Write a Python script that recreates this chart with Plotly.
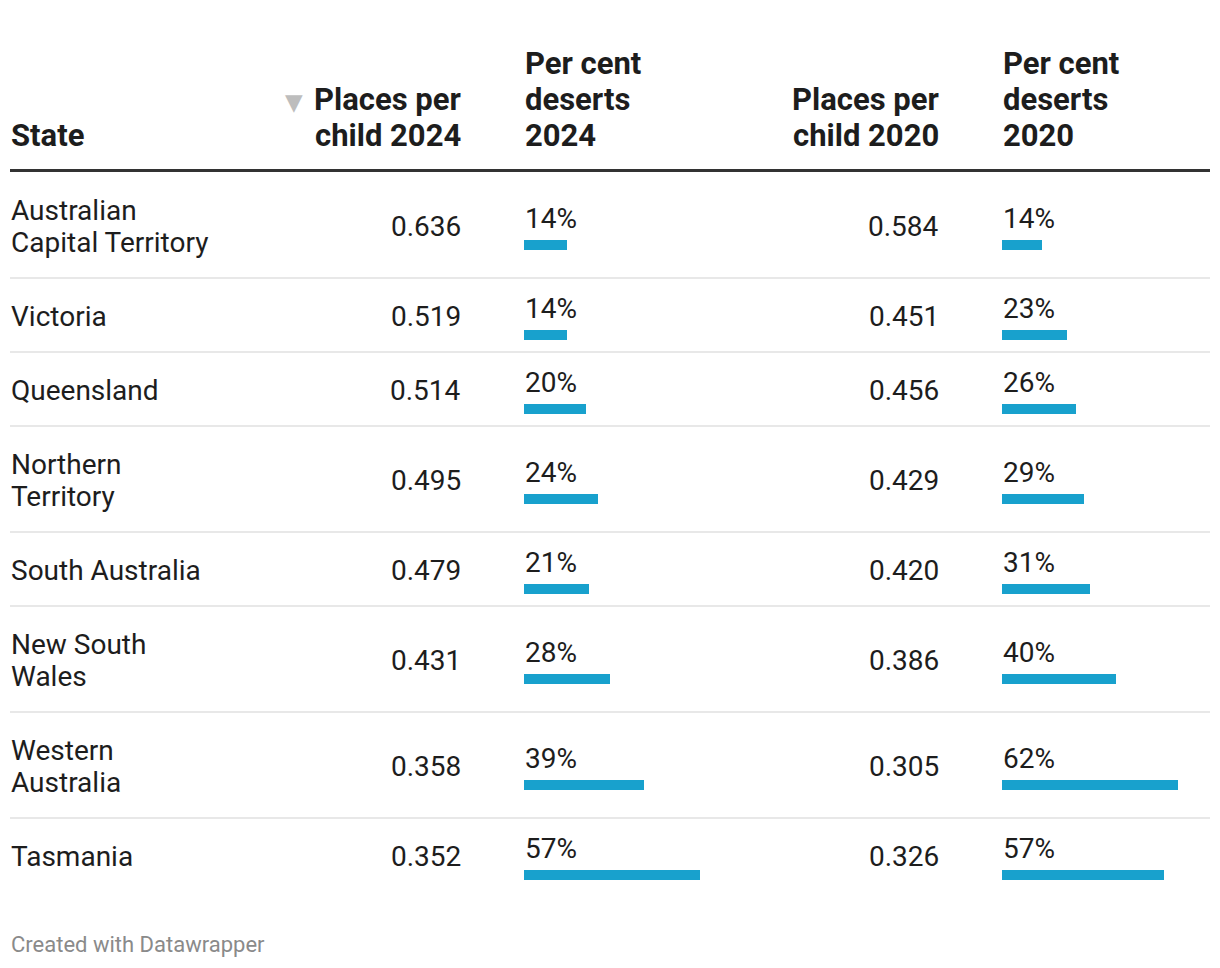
import plotly.graph_objects as go

# ---------------- data ----------------
states = ["Australian<br>Capital Territory", "Victoria", "Queensland", "Northern<br>Territory",
          "South Australia", "New South<br>Wales", "Western<br>Australia", "Tasmania"]
places_2024 = [0.636, 0.519, 0.514, 0.495, 0.479, 0.431, 0.358, 0.352]
pct_2024 = [14, 14, 20, 24, 21, 28, 39, 57]
places_2020 = [0.584, 0.451, 0.456, 0.429, 0.420, 0.386, 0.305, 0.326]
pct_2020 = [14, 23, 26, 29, 31, 40, 62, 57]
headers = ["State", "Places per<br>child 2024", "Per cent<br>deserts<br>2024",
           "Places per<br>child 2020", "Per cent<br>deserts<br>2020"]
footer = "Created with Datawrapper"

# ---------------- layout constants (page pixel coordinates) ----------------
PW, PH = 1220, 968
OFF = 8                       # default page body margin
W, H = PW - OFF, PH - OFF     # figure size
FONT = "Roboto"
TXT = "#1d1d1d"
BAR = "#18a1cd"
BODY = 28
HEAD = 31
top = 172
row_h1 = 74
line_h = 32
head_line_h = 36
col_state_x = 10
col_p24_x = 462
col_b24_x = 524
col_p20_x = 940
col_b20_x = 1002
bar_len = 176

# row positions
row_tops, row_centers = [], []
y = top
for s in states:
    n = len(s.split("<br>"))
    h = row_h1 + (n - 1) * line_h
    row_tops.append(y)
    row_centers.append(y + h / 2)
    y += h

fig = go.Figure()

bar_y = [c + 20 for c in row_centers]
fig.add_trace(go.Bar(x=pct_2024, y=bar_y, orientation="h", width=10,
                     marker=dict(color=BAR, line=dict(width=0)),
                     xaxis="x2", yaxis="y", hoverinfo="skip", showlegend=False))
fig.add_trace(go.Bar(x=pct_2020, y=bar_y, orientation="h", width=10,
                     marker=dict(color=BAR, line=dict(width=0)),
                     xaxis="x3", yaxis="y", hoverinfo="skip", showlegend=False))

ann = []
def text(x, y, t, size=BODY, color=TXT, xanchor="left", bold=False, family=FONT):
    ann.append(dict(x=x, y=y, xref="x", yref="y", text=(f"<b>{t}</b>" if bold else t),
                    showarrow=False, xanchor=xanchor, yanchor="middle",
                    font=dict(family=family, size=size, color=color), borderpad=0))

# headers (bottom aligned, last line center at 135)
head_x = [(col_state_x, "left"), (col_p24_x, "right"), (col_b24_x, "left"),
          (col_p20_x, "right"), (col_b20_x, "left")]
for (hx, anc), h in zip(head_x, headers):
    lines = h.split("<br>")
    for i, ln in enumerate(lines):
        yy = 135 - (len(lines) - 1 - i) * head_line_h
        text(hx, yy, ln, size=HEAD, xanchor=anc, bold=True)
# sort arrow
text(294, 102, "▼", size=23, color="#bdbdbd", xanchor="center", family="DejaVu Sans")

for i, s in enumerate(states):
    c = row_centers[i]
    lines = s.split("<br>")
    for j, ln in enumerate(lines):
        yy = c + 1 + (j - (len(lines) - 1) / 2) * line_h
        text(col_state_x, yy, ln)
    text(col_p24_x, c + 1, f"{places_2024[i]:.3f}", xanchor="right")
    text(col_p20_x, c + 1, f"{places_2020[i]:.3f}", xanchor="right")
    text(col_b24_x, c - 7, f"{pct_2024[i]}%")
    text(col_b20_x, c - 7, f"{pct_2020[i]}%")

text(10, 944, footer, size=22, color="#8a8a8a")

shapes = [dict(type="line", xref="x", yref="y", x0=10, x1=1210, y0=top - 1.5, y1=top - 1.5,
               line=dict(color="#333333", width=3))]
for t in row_tops[1:]:
    shapes.append(dict(type="line", xref="x", yref="y", x0=10, x1=1210, y0=t, y1=t,
                       line=dict(color="#e8e8e8", width=2)))

ax_off = dict(visible=False, showgrid=False, zeroline=False, fixedrange=True)
fig.update_layout(
    width=W, height=H, margin=dict(l=0, r=0, t=0, b=0),
    paper_bgcolor="white", plot_bgcolor="white",
    xaxis=dict(range=[OFF, PW], domain=[0, 1], **ax_off),
    xaxis2=dict(range=[0, max(pct_2024)],
                domain=[(col_b24_x - OFF) / W, (col_b24_x + bar_len - OFF) / W],
                anchor="y", **ax_off),
    xaxis3=dict(range=[0, max(pct_2020)],
                domain=[(col_b20_x - OFF) / W, (col_b20_x + bar_len - OFF) / W],
                anchor="y", **ax_off),
    yaxis=dict(range=[PH, OFF], domain=[0, 1], **ax_off),
    annotations=ann, shapes=shapes, bargap=0,
)
fig.write_html("out.html", config={"displayModeBar": False})
